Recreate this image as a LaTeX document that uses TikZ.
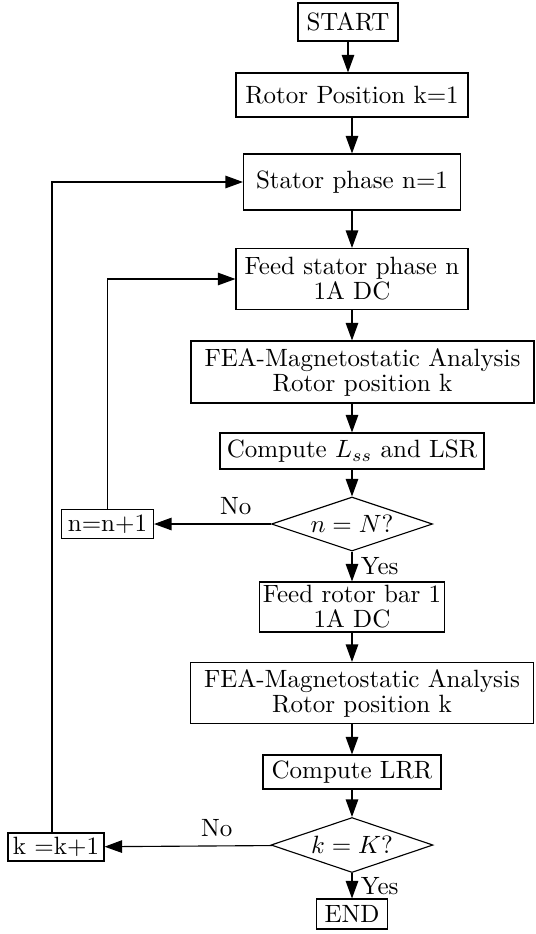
\documentclass[tikz,border=0pt]{standalone}
\usepackage{tikz}
\usetikzlibrary{arrows.meta}
\usetikzlibrary{shapes.geometric, positioning}

\begin{document}
\begin{tikzpicture}[x=0.4pt, y=-0.4pt, node distance=30pt, line width=0.45pt,
    >={Triangle[length=7pt, width=5pt]},
    block/.style={rectangle, draw, inner sep=1pt, align=center},
    decision/.style={diamond, draw, aspect=3, inner sep=0pt}]
    \useasboundingbox (0,0) rectangle (535,934);
    % Define blocks
    \node [block, minimum width=40pt, minimum height=15.2pt] (start) at (348,22) {START};
    \node [block, below of=start, xshift=1.6pt, yshift=0.8pt, minimum width=92.8pt, minimum height=17.6pt] (rotorpos) {Rotor Position k=1};
    \node [block, below of=rotorpos, yshift=-4.8pt, minimum width=86.8pt, minimum height=22.4pt] (stator) {Stator phase n=1};
    \node [block, below of=stator, yshift=-8.8pt, minimum width=92.8pt, minimum height=24.4pt] (feed) {Feed stator phase n\\[-2pt] 1A DC};
    \node [block, below of=feed, xshift=4.2pt, yshift=-7.2pt, minimum width=137.2pt, minimum height=24.8pt] (feaone) {FEA-Magnetostatic Analysis\\[-2pt] Rotor position k};
    \node [block, below of=feaone, xshift=-4.2pt, yshift=-1.6pt, minimum width=105.6pt, minimum height=14.4pt] (lss) {Compute $L_{ss}$ and LSR};
    \node [decision, below of=lss, yshift=0.8pt, minimum width=64.4pt, minimum height=21.6pt] (nchk) {$n=N?$};
    \node [block, left of=nchk, node distance=97.8pt, minimum width=36.8pt, minimum height=11.6pt] (ninc) {n=n+1};
    \node [block, below of=nchk, yshift=-3.2pt, minimum width=74pt, minimum height=20pt] (rotorbar) {Feed rotor bar 1\\[-2pt] 1A DC};
    \node [block, below of=rotorbar, xshift=4pt, yshift=-4.4pt, minimum width=137.2pt, minimum height=24.4pt] (featwo) {FEA-Magnetostatic Analysis\\[-2pt] Rotor position k};
    \node [block, below of=featwo, xshift=-4pt, yshift=-1.6pt, minimum width=71.2pt, minimum height=13.6pt] (lrr) {Compute LRR};
    \node [decision, below of=lrr, yshift=0.8pt, minimum width=64.8pt, minimum height=22pt] (kchk) {$k=K?$};
    \node [block, left of=kchk, node distance=118.4pt, yshift=-0.8pt, minimum width=38.4pt, minimum height=11.2pt] (kinc) {k =k+1};
    \node [block, below of=kchk, yshift=2.4pt, minimum width=28.4pt, minimum height=12pt] (end) {END};

    % Define arrows
    \draw [->] (start) -- (start |- rotorpos.north);
    \draw [->] (rotorpos) -- (stator);
    \draw [->] (stator) -- (feed);
    \draw [->] (feed) -- (feed |- feaone.north);
    \draw [->] (lss |- feaone.south) -- (lss);
    \draw [->] (lss) -- (nchk);
    \draw [->] (nchk) -- node [above, pos=0.3] {No} (ninc);
    \draw [->] (ninc) |- (feed);
    \draw [->] (nchk) -- node [right] {Yes} (rotorbar);
    \draw [->] (rotorbar) -- (rotorbar |- featwo.north);
    \draw [->] (lrr |- featwo.south) -- (lrr);
    \draw [->] (lrr) -- (kchk);
    \draw [->] (kchk) -- node [above, pos=0.33] {No} (kinc);
    \draw [->] ([xshift=-1.6pt]kinc.north) |- (stator);
    \draw [->] (kchk) -- node [right] {Yes} (end);
\end{tikzpicture}
\end{document}
